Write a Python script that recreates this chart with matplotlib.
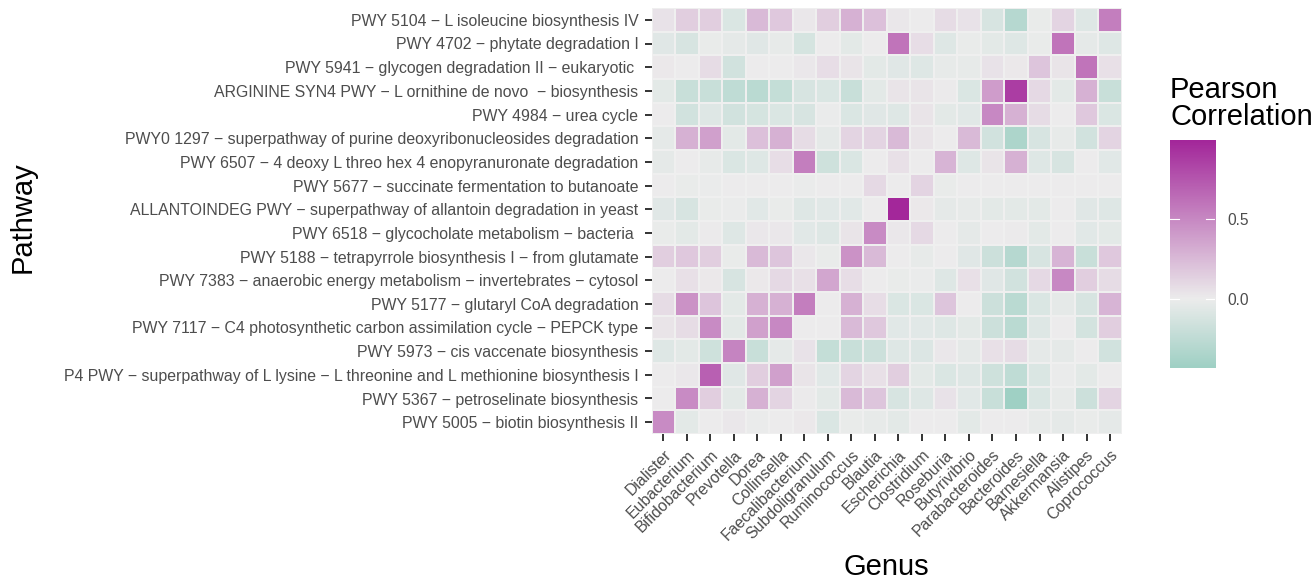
import numpy as np
import matplotlib
matplotlib.use('Agg')
import matplotlib.pyplot as plt
from matplotlib.colors import LinearSegmentedColormap, TwoSlopeNorm

plt.rcParams['font.family'] = ['Liberation Sans', 'DejaVu Sans']

genera = ['Dialister', 'Eubacterium', 'Bifidobacterium', 'Prevotella', 'Dorea',
          'Collinsella', 'Faecalibacterium', 'Subdoligranulum', 'Ruminococcus',
          'Blautia', 'Escherichia', 'Clostridium', 'Roseburia', 'Butyrivibrio',
          'Parabacteroides', 'Bacteroides', 'Barnesiella', 'Akkermansia',
          'Alistipes', 'Coprococcus']

# top to bottom
pathways = [
    'PWY 5104 \u2212 L isoleucine biosynthesis IV',
    'PWY 4702 \u2212 phytate degradation I',
    'PWY 5941 \u2212 glycogen degradation II \u2212 eukaryotic ',
    'ARGININE SYN4 PWY \u2212 L ornithine de novo  \u2212 biosynthesis',
    'PWY 4984 \u2212 urea cycle',
    'PWY0 1297 \u2212 superpathway of purine deoxyribonucleosides degradation',
    'PWY 6507 \u2212 4 deoxy L threo hex 4 enopyranuronate degradation',
    'PWY 5677 \u2212 succinate fermentation to butanoate',
    'ALLANTOINDEG PWY \u2212 superpathway of allantoin degradation in yeast',
    'PWY 6518 \u2212 glycocholate metabolism \u2212 bacteria ',
    'PWY 5188 \u2212 tetrapyrrole biosynthesis I \u2212 from glutamate',
    'PWY 7383 \u2212 anaerobic energy metabolism \u2212 invertebrates \u2212 cytosol',
    'PWY 5177 \u2212 glutaryl CoA degradation',
    'PWY 7117 \u2212 C4 photosynthetic carbon assimilation cycle \u2212 PEPCK type',
    'PWY 5973 \u2212 cis vaccenate biosynthesis',
    'P4 PWY \u2212 superpathway of L lysine \u2212 L threonine and L methionine biosynthesis I',
    'PWY 5367 \u2212 petroselinate biosynthesis',
    'PWY 5005 \u2212 biotin biosynthesis II',
]

# Pearson correlation, one row per pathway (same order as above)
corr = [
    [0.05, 0.15, 0.15, -0.10, 0.25, 0.18, 0.03, 0.15, 0.30, 0.22, 0.03, 0.00, 0.08, 0.05, -0.12, -0.30, -0.02, 0.12, -0.08, 0.55],
    [-0.07, -0.12, -0.02, -0.04, -0.07, -0.03, -0.13, 0.00, -0.05, 0.00, 0.60, 0.07, -0.08, -0.02, -0.05, -0.08, -0.02, 0.60, -0.04, -0.08],
    [0.02, 0.00, 0.08, -0.15, 0.00, 0.00, 0.03, 0.07, 0.04, -0.05, -0.07, -0.08, -0.03, -0.03, 0.05, 0.02, 0.20, 0.04, 0.60, 0.06],
    [-0.05, -0.20, -0.20, -0.25, -0.28, -0.22, -0.12, -0.10, -0.20, -0.05, 0.04, 0.04, 0.01, -0.10, 0.40, 0.88, 0.10, -0.05, 0.30, -0.20],
    [0.00, -0.15, -0.08, -0.15, -0.13, -0.10, -0.12, -0.01, -0.10, -0.07, -0.08, 0.04, -0.05, -0.06, 0.50, 0.30, 0.08, 0.00, 0.18, -0.10],
    [-0.04, 0.30, 0.38, -0.05, 0.22, 0.30, 0.08, -0.04, 0.12, 0.12, 0.25, 0.04, 0.00, 0.25, -0.15, -0.35, -0.12, -0.03, -0.15, 0.12],
    [-0.04, 0.00, -0.03, -0.10, -0.08, 0.07, 0.55, -0.17, -0.10, 0.00, 0.06, 0.00, 0.28, -0.08, 0.04, 0.30, -0.08, -0.12, 0.00, -0.06],
    [0.00, -0.02, -0.01, 0.00, 0.00, 0.00, -0.01, 0.00, 0.00, 0.10, 0.00, 0.12, -0.02, 0.00, 0.00, 0.00, 0.00, 0.00, 0.00, 0.00],
    [-0.07, -0.12, -0.02, -0.01, -0.06, -0.02, -0.08, -0.06, -0.06, 0.00, 0.99, 0.02, -0.04, -0.03, -0.05, -0.05, -0.05, 0.00, -0.07, -0.08],
    [-0.02, -0.05, 0.01, -0.08, 0.03, 0.03, -0.06, -0.08, 0.04, 0.48, 0.03, 0.10, 0.00, -0.04, 0.00, 0.01, -0.05, 0.00, -0.06, -0.05],
    [0.15, 0.18, 0.15, -0.02, 0.25, 0.20, 0.03, -0.02, 0.45, 0.25, 0.00, -0.03, 0.00, -0.07, -0.18, -0.30, -0.12, 0.28, -0.20, 0.18],
    [0.00, 0.06, 0.02, -0.12, 0.02, 0.10, 0.06, 0.35, 0.07, 0.00, -0.02, -0.01, -0.08, 0.06, -0.07, -0.15, 0.10, 0.50, 0.15, 0.08],
    [0.08, 0.45, 0.20, -0.05, 0.30, 0.30, 0.55, 0.00, 0.30, 0.07, -0.10, -0.10, 0.20, 0.00, -0.18, -0.28, -0.10, -0.04, -0.12, 0.28],
    [0.04, 0.08, 0.48, -0.05, 0.38, 0.50, 0.00, 0.00, 0.25, 0.18, -0.06, -0.06, -0.08, -0.05, -0.18, -0.28, -0.08, 0.00, -0.14, 0.15],
    [-0.08, -0.05, -0.17, 0.52, -0.20, -0.04, 0.05, -0.22, -0.20, -0.18, -0.08, -0.09, 0.03, -0.04, 0.06, 0.08, -0.04, -0.04, 0.00, -0.15],
    [0.00, 0.03, 0.70, -0.07, 0.15, 0.38, 0.04, -0.06, 0.12, 0.06, 0.15, -0.05, -0.10, -0.08, -0.17, -0.25, -0.10, -0.01, -0.05, 0.00],
    [0.00, 0.48, 0.15, -0.05, 0.30, 0.12, 0.01, -0.05, 0.25, 0.20, -0.12, -0.08, 0.05, -0.06, -0.20, -0.43, -0.10, -0.03, -0.18, 0.12],
    [0.48, -0.05, 0.00, 0.03, -0.01, 0.00, 0.02, -0.10, -0.02, -0.03, -0.05, 0.00, 0.00, -0.05, 0.00, 0.00, -0.03, -0.04, -0.02, -0.04],
]

colorbar_ticks = [0.0, 0.5]

data = np.array(corr)
vmin, vmax = data.min(), data.max()

cmap = LinearSegmentedColormap.from_list('pc', ['#9fd0c4', '#ececec', '#a3279a'])
norm = TwoSlopeNorm(vmin=vmin, vcenter=0.0, vmax=vmax)

W, H = 1316, 581
fig = plt.figure(figsize=(W / 100, H / 100), dpi=100)
ax = fig.add_axes([651.6 / W, 1 - 434 / H, (1121.8 - 651.6) / W, (434 - 8) / H])
ax.set_facecolor('#ebebeb')

nr, nc = data.shape
ax.pcolormesh(np.arange(nc + 1) - 0.5, np.arange(nr + 1) - 0.5, data[::-1],
              cmap=cmap, norm=norm, edgecolors='#efefef', linewidth=0.2)
ax.set_xlim(-0.5, nc - 0.5)
ax.set_ylim(-0.5, nr - 0.5)

for s in ax.spines.values():
    s.set_visible(False)

ax.set_xticks(np.arange(nc))
ax.set_xticklabels(genera, rotation=45, ha='right', va='top', rotation_mode='anchor')
ax.set_yticks(np.arange(nr))
ax.set_yticklabels(pathways[::-1])
ax.tick_params(length=5, width=1.4, color='#333333', labelcolor='#4d4d4d',
               labelsize=11.4, pad=4.5)

fig.text(23 / W, 1 - 217 / H, 'Pathway', rotation=90, ha='center', va='center', fontsize=21)
fig.text(886.7 / W, 1 - 567 / H, 'Genus', ha='center', va='center', fontsize=21)

# colorbar
cax = fig.add_axes([1170 / W, 1 - 368 / H, 45 / W, 228 / H])
grad = np.linspace(vmin, vmax, 256).reshape(-1, 1)
cax.imshow(grad, aspect='auto', origin='lower', cmap=cmap, norm=norm,
           extent=[0, 1, vmin, vmax])
cax.set_xlim(0, 1)
cax.set_ylim(vmin, vmax)
cax.set_xticks([])
cax.yaxis.tick_right()
cax.set_yticks(colorbar_ticks)
cax.set_yticklabels(['%.1f' % t for t in colorbar_ticks])
cax.tick_params(axis='y', length=0, labelsize=11.2, labelcolor='#4d4d4d', pad=9)
for t in colorbar_ticks:
    cax.plot([0, 0.2], [t, t], color='white', lw=0.8)
    cax.plot([0.8, 1], [t, t], color='white', lw=0.8)
for s in cax.spines.values():
    s.set_visible(False)
fig.text(1170 / W, 1 - 131 / H, 'Pearson\nCorrelation', ha='left', va='bottom',
         fontsize=21, linespacing=0.95)

fig.savefig('out.png', dpi=100)
